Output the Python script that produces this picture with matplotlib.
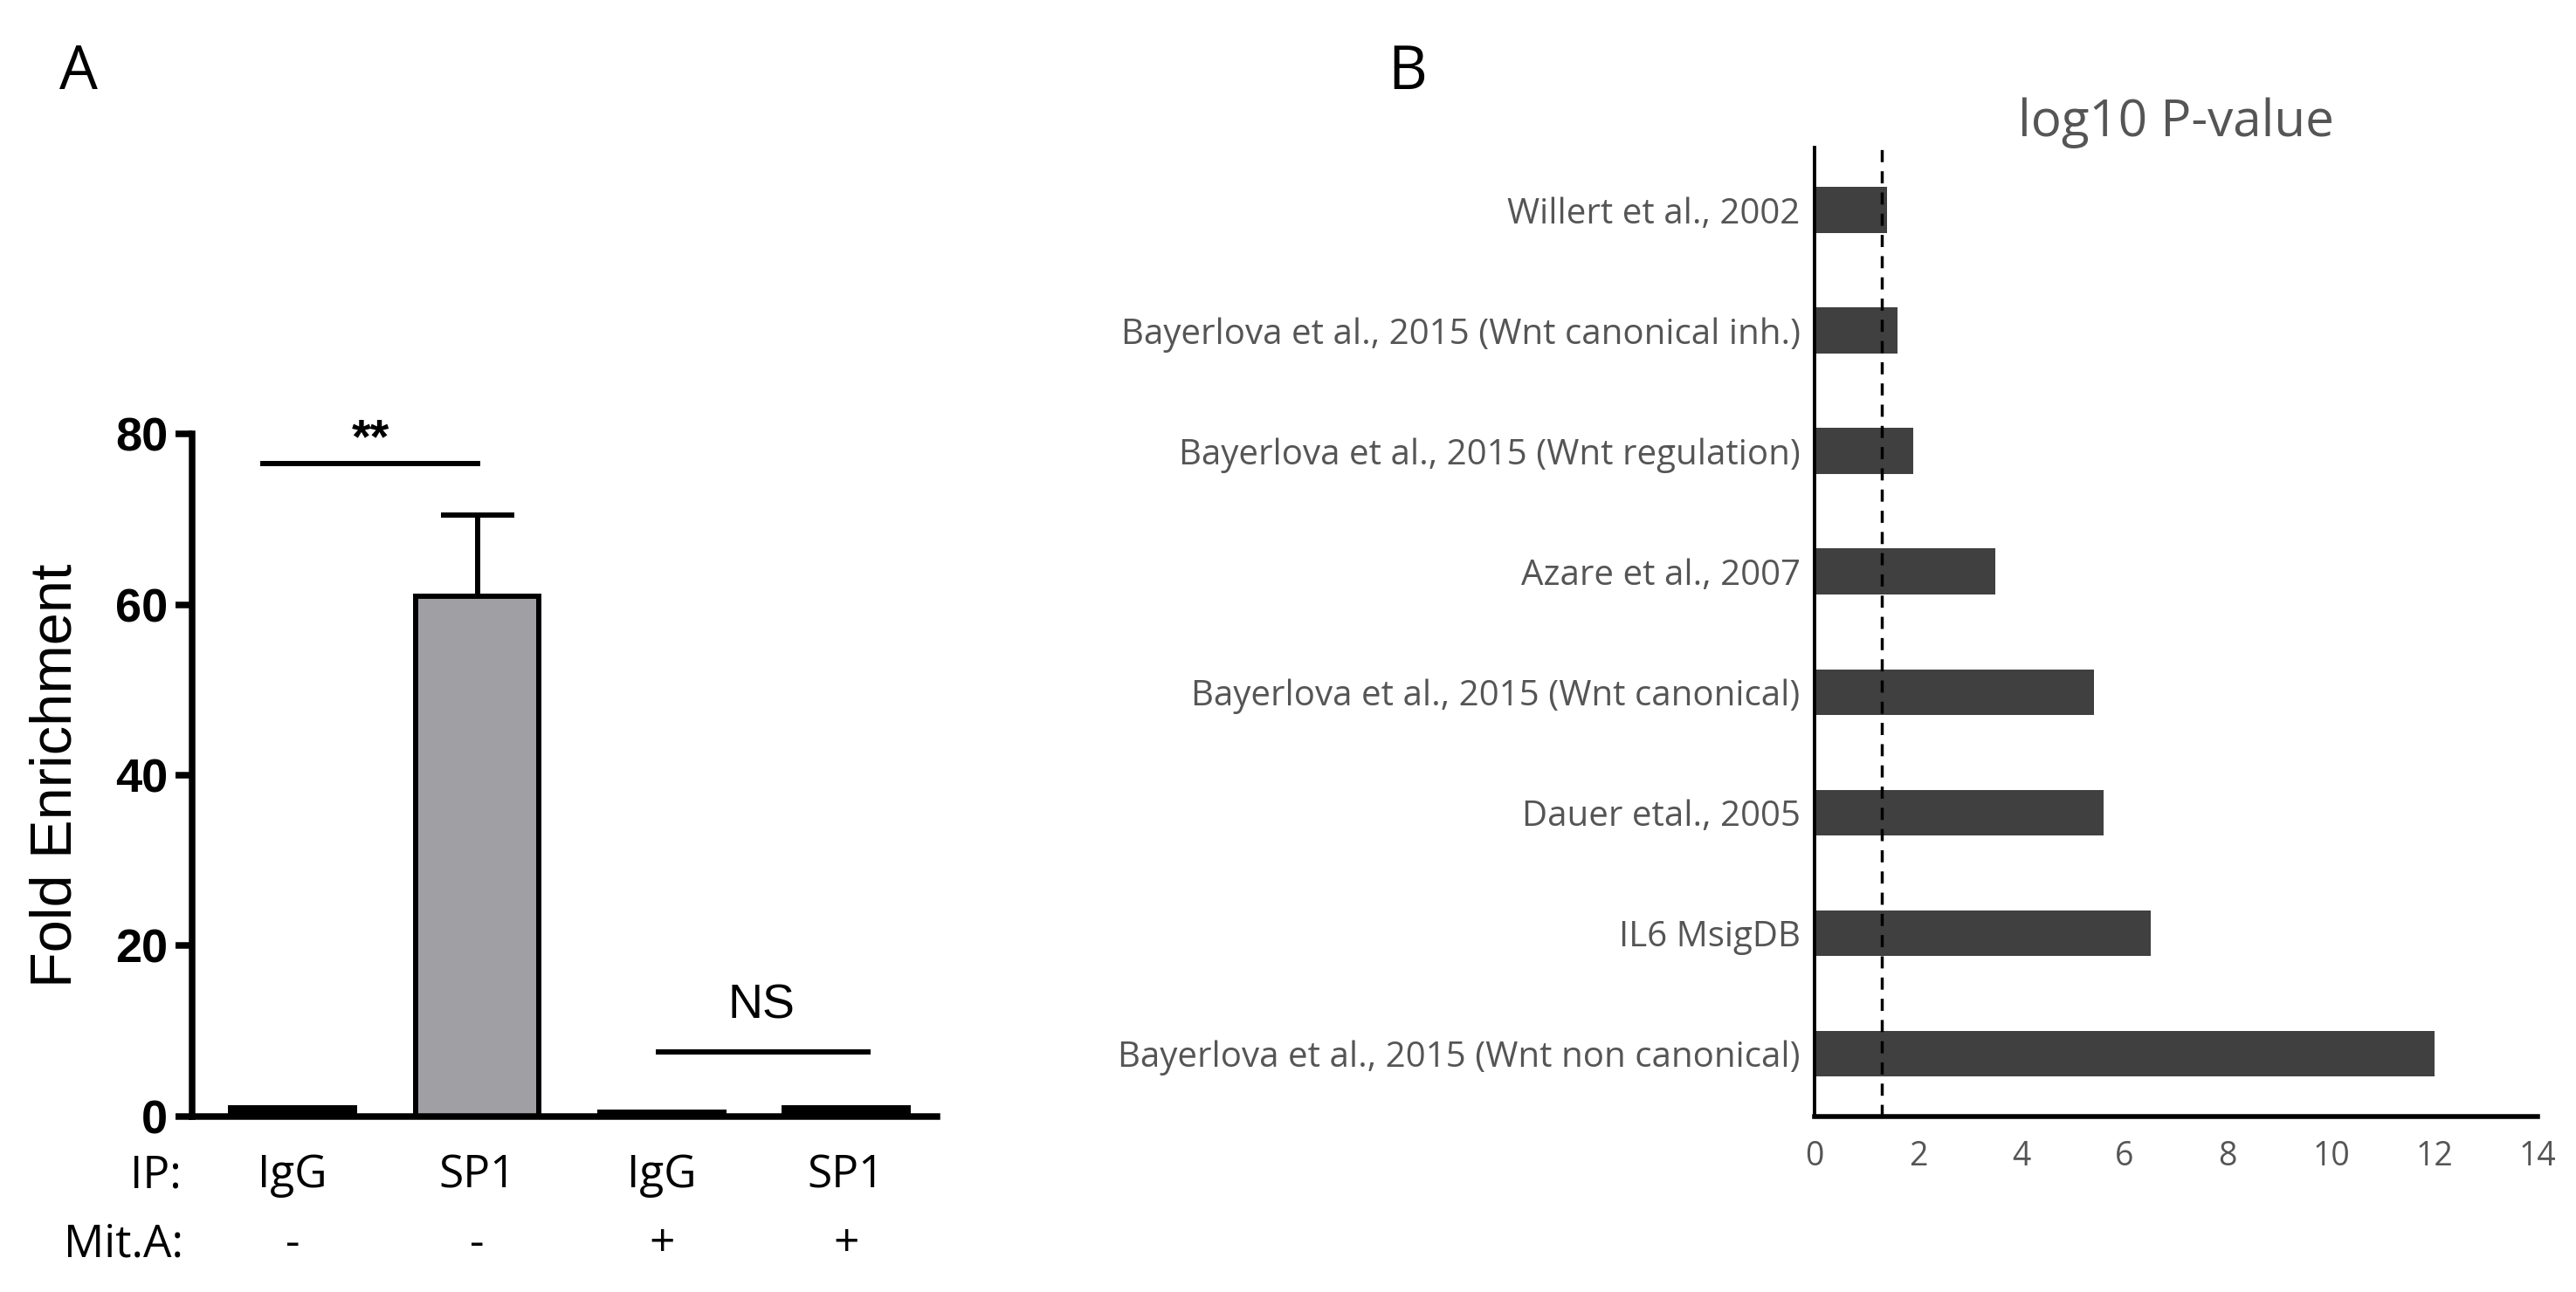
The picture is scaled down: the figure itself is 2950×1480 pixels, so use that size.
import matplotlib
matplotlib.use('Agg')
import matplotlib.pyplot as plt

# panel A data
ip_labels = ['IgG', 'SP1', 'IgG', 'SP1']
mit_labels = ['-', '-', '+', '+']
fold_enrichment = [1.0, 61.0, 0.5, 1.0]
fold_err = [0, 9.5, 0, 0]
bar_colors = ['black', '#a09fa4', 'black', 'black']

# panel B data
studies = ['Willert et al., 2002',
           'Bayerlova et al., 2015 (Wnt canonical inh.)',
           'Bayerlova et al., 2015 (Wnt regulation)',
           'Azare et al., 2007',
           'Bayerlova et al., 2015 (Wnt canonical)',
           'Dauer etal., 2005',
           'IL6 MsigDB',
           'Bayerlova et al., 2015 (Wnt non canonical)']
log10_p = [1.4, 1.6, 1.9, 3.5, 5.4, 5.6, 6.5, 12.0]
threshold = 1.3

gray_txt = '#555555'
myriad = 'Open Sans'

fig = plt.figure(figsize=(29.5, 14.8), dpi=100)

# ---------- panel A ----------
axA = fig.add_axes([0.0746, 0.136, 0.289, 0.528])
x = range(len(fold_enrichment))
axA.bar(x, fold_enrichment, width=0.67, color=bar_colors, edgecolor='black', linewidth=4.3, zorder=2)
axA.errorbar([1], [fold_enrichment[1]], yerr=[[0], [fold_err[1]]], fmt='none',
             ecolor='black', elinewidth=4.3, capsize=30, capthick=4.3, zorder=1)
axA.set_xlim(-0.545, 3.49)
axA.set_ylim(0, 80)
axA.set_yticks([0, 20, 40, 60, 80])
for s in ['top', 'right']:
    axA.spines[s].set_visible(False)
for s in ['left', 'bottom']:
    axA.spines[s].set_linewidth(5.4)
axA.tick_params(axis='y', width=5.4, length=14, pad=6)
axA.tick_params(axis='x', length=0)
axA.set_xticks([])
for lbl in axA.get_yticklabels():
    lbl.set_fontfamily('Liberation Sans')
    lbl.set_fontweight('bold')
    lbl.set_fontsize(39)
axA.set_ylabel('Fold Enrichment', family='Liberation Sans', fontsize=48, labelpad=26)

# row labels below the bars
for i in x:
    axA.text(i, -0.087, ip_labels[i], transform=axA.get_xaxis_transform(),
             ha='center', va='center', family=myriad, fontsize=37)
    axA.text(i, -0.188, mit_labels[i], transform=axA.get_xaxis_transform(),
             ha='center', va='center', family=myriad, fontsize=37)
axA.text(-0.015, -0.087, 'IP:', transform=axA.transAxes,
         ha='right', va='center', family=myriad, fontsize=37)
axA.text(-0.012, -0.188, 'Mit.A:', transform=axA.transAxes,
         ha='right', va='center', family=myriad, fontsize=37)

# significance marks
axA.plot([-0.16, 1.0], [76.5, 76.5], color='black', lw=4.3, clip_on=False)
axA.text(0.42, 76.6, '**', ha='center', va='bottom', family='Liberation Sans',
         fontweight='bold', fontsize=40)
axA.plot([1.98, 3.12], [7.5, 7.5], color='black', lw=4.3, clip_on=False)
axA.text(2.54, 10.25, 'NS', ha='center', va='bottom', family='Liberation Sans', fontsize=40)

fig.text(0.0305, 0.943, 'A', family=myriad, fontsize=50, ha='center', va='center')

# ---------- panel B ----------
axB = fig.add_axes([0.7045, 0.136, 0.2806, 0.75])
pos = range(len(studies))
axB.barh(pos, log10_p, height=0.38, color='#404040', zorder=2)
axB.axvline(threshold, color='black', lw=2.5, ls=(0, (4, 3)), zorder=3)
axB.set_xlim(0, 14)
axB.set_ylim(len(studies) - 0.48, -0.52)
axB.set_yticks(list(pos))
axB.set_yticklabels(studies, family=myriad, fontsize=29, color=gray_txt)
axB.set_xticks(range(0, 15, 2))
axB.set_xticklabels([str(v) for v in range(0, 15, 2)], family=myriad, fontsize=27, color=gray_txt)
axB.tick_params(axis='both', length=0)
axB.tick_params(axis='x', pad=20)
axB.tick_params(axis='y', pad=12)
for s in ['top', 'right']:
    axB.spines[s].set_visible(False)
axB.spines['left'].set_linewidth(2.8)
axB.spines['bottom'].set_linewidth(4)
axB.text(0.5, 1.025, 'log10 P-value', transform=axB.transAxes, ha='center', va='center',
         family=myriad, fontsize=42, color=gray_txt)

fig.text(0.5465, 0.943, 'B', family=myriad, fontsize=50, ha='center', va='center')

fig.savefig('out.png', dpi=100, facecolor='white')
